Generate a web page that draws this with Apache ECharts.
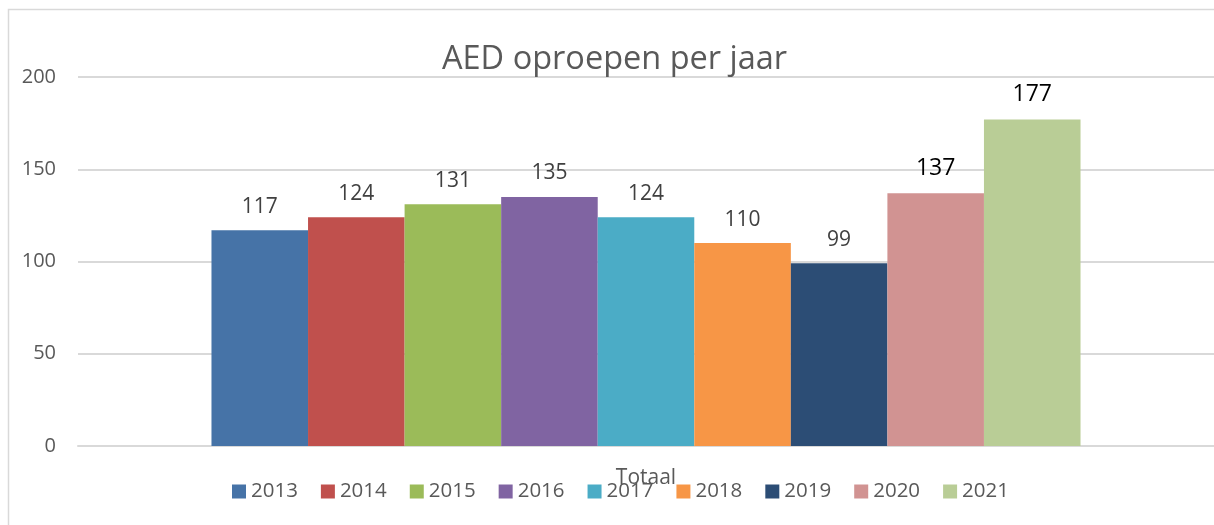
<!DOCTYPE html>
<html>
<head>
<meta charset="utf-8">
<style>
  html, body { margin: 0; padding: 0; background: #ffffff; }
  #chart { width: 1214px; height: 525px; }
</style>
<script src="https://cdn.jsdelivr.net/npm/echarts@6/dist/echarts.min.js"></script>
</head>
<body>
<div id="chart"></div>
<script>
var categories = ['Totaal'];
var years = ['2013', '2014', '2015', '2016', '2017', '2018', '2019', '2020', '2021'];
var calls = [117, 124, 131, 135, 124, 110, 99, 137, 177];
var colors = ['#4673A7', '#C0504D', '#9BBB59', '#8064A2', '#4BACC6', '#F79646', '#2C4D75', '#D19392', '#B9CD96'];
// the last two labels are black and a bit bigger in the original
var labelColors = ['#404040', '#404040', '#404040', '#404040', '#404040', '#404040', '#404040', '#000000', '#000000'];
var labelSizes = [21, 21, 21, 21, 21, 21, 21, 23, 23];

var chartDom = document.getElementById('chart');
var myChart = echarts.init(chartDom);
var font = '"Open Sans", sans-serif';

var series = years.map(function (y, i) {
  return {
    name: y,
    type: 'bar',
    barGap: 0,
    barCategoryGap: '23.5%',
    itemStyle: { color: colors[i] },
    label: {
      show: true,
      position: 'top',
      distance: 13,
      fontFamily: font,
      fontSize: labelSizes[i],
      color: labelColors[i]
    },
    data: [calls[i]]
  };
});

var option = {
  animation: false,
  title: {
    text: 'AED oproepen per jaar',
    left: 437,
    top: 38,
    textStyle: { fontFamily: font, fontSize: 32.5, fontWeight: 'normal', color: '#595959' }
  },
  legend: {
    bottom: 18,
    left: 227,
    itemWidth: 14,
    itemHeight: 14,
    itemGap: 23,
    icon: 'rect',
    textStyle: { fontFamily: font, fontSize: 20.5, color: '#595959' },
    data: years
  },
  grid: {
    left: 78,
    top: 77,
    width: 1141,
    height: 369
  },
  xAxis: {
    type: 'category',
    data: categories,
    axisLine: { lineStyle: { color: '#d9d9d9', width: 2 } },
    axisTick: { show: false },
    axisLabel: { fontFamily: font, fontSize: 21, color: '#595959', margin: 22 }
  },
  yAxis: {
    type: 'value',
    min: 0,
    max: 200,
    interval: 50,
    axisLine: { show: false },
    axisTick: { show: false },
    splitLine: { lineStyle: { color: '#d9d9d9', width: 2 } },
    axisLabel: { fontFamily: font, fontSize: 20, color: '#595959', margin: 22 }
  },
  graphic: [{
    type: 'rect',
    shape: { x: 8.5, y: 9.5, width: 1240, height: 560 },
    style: { fill: 'none', stroke: '#d9d9d9', lineWidth: 1.5 },
    silent: true
  }],
  series: series
};

option && myChart.setOption(option);
</script>
</body>
</html>
